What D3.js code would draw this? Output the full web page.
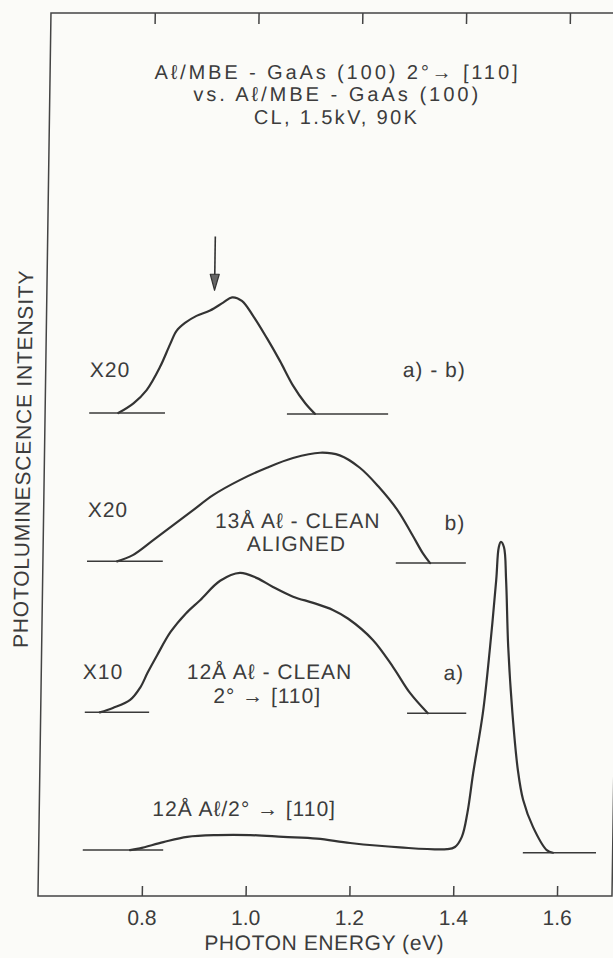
<!DOCTYPE html>
<html><head><meta charset="utf-8">
<script src="https://cdn.jsdelivr.net/npm/d3@7"></script>
<style>
html,body{margin:0;padding:0;background:#fbfbf8;}
svg{display:block;}
text{font-family:"Liberation Sans",Arial,Helvetica,sans-serif;fill:#3c3c3c;}
</style></head><body>
<svg id="chart" width="613" height="958"></svg>
<script>
// ---------- data ----------
const energyTicks = [0.8, 1.0, 1.2, 1.4, 1.6];
const titleLines = ["A\u2113/MBE - GaAs (100) 2\u00b0\u2192 [110]", "vs. A\u2113/MBE - GaAs (100)", "CL, 1.5kV, 90K"];
const xLabel = "PHOTON ENERGY (eV)";
const yLabel = "PHOTOLUMINESCENCE INTENSITY";

// difference spectrum a) - b)  (x20)
const specAB_E = [0.741,0.770,0.795,0.820,0.839,0.851,0.867,0.889,0.915,0.940,0.957,0.976,0.998,1.025,1.051,1.077,1.101,1.120];
const specAB_I = [54.7,55.8,57.3,59.9,62.5,64.0,64.9,65.7,66.3,67.2,67.8,67.4,65.7,63.2,60.6,57.8,55.8,54.6];
// b) 13A Al - clean aligned (x20)
const specB_E = [0.743,0.773,0.812,0.850,0.888,0.926,0.977,1.029,1.079,1.131,1.169,1.208,1.244,1.283,1.312,1.332,1.346];
const specB_I = [37.9,38.6,40.3,42.0,43.7,45.4,47.1,48.5,49.6,50.2,49.9,48.5,46.4,43.6,40.8,38.8,37.7];
// a) 12A Al - clean 2deg -> [110] (x10)
const specA_E = [0.714,0.739,0.772,0.791,0.805,0.823,0.848,0.877,0.904,0.942,0.980,1.013,1.044,1.083,1.122,1.160,1.190,1.238,1.278,1.311,1.346];
const specA_I = [20.8,21.3,22.2,23.6,25.3,27.3,29.9,32.0,33.5,35.7,36.6,36.0,35.0,33.9,33.2,32.4,31.4,29.0,25.9,23.0,20.7];
// 12A Al / 2deg -> [110] (x1)
const specD_E = [0.776,0.795,0.840,0.886,0.944,1.007,1.071,1.136,1.200,1.296,1.387,1.402,1.415,1.425,1.435,1.452,1.464,1.474,1.478,1.482,1.488,1.493,1.499,1.509,1.521,1.532,1.552,1.579,1.591];
const specD_I = [5.2,5.4,6.1,6.7,6.9,6.9,6.7,6.5,6.0,5.5,5.3,5.55,6.7,9.4,13.9,20.7,28.2,35.8,39.5,40.1,39.5,35.8,28.2,20.7,14.3,10.9,7.8,5.2,4.9];

// zero lines [E start, E end, level]
const baseAB = [[0.685,0.831,54.7],[1.066,1.261,54.6]];
const baseB  = [[0.685,0.831,37.9],[1.280,1.415,37.7]];
const baseA  = [[0.685,0.809,20.8],[1.306,1.420,20.7]];
const baseD  = [[0.685,0.840,5.2],[1.533,1.674,4.9]];

// arrow marker [energy, from, to]
const arrowMark = [0.923, 74.7, 68.6];

const gainLabels = ["X20", "X20", "X10"];
const sideLabels = ["a) - b)", "b)", "a)"];
const sampleB = ["13\u00c5 A\u2113 - CLEAN", "ALIGNED"];
const sampleA = ["12\u00c5 A\u2113 - CLEAN", "2\u00b0 \u2192 [110]"];
const sampleD = ["12\u00c5 A\u2113/2\u00b0 \u2192 [110]"];

// ---------- drawing ----------
const svg = d3.select("#chart");
const ink = "#333";
const x = d3.scaleLinear().domain([0.6, 1.706]).range([38, 612]);
const y = d3.scaleLinear().domain([0, 100]).range([896, 13]);

// the scanned figure is slightly sheared
const g = svg.append("g").attr("transform", "translate(0,895) skewX(-0.843) translate(0,-895)");

// frame
g.append("rect").attr("x", x(0.6)).attr("y", y(100))
  .attr("width", x(1.706) - x(0.6)).attr("height", y(0) - y(100))
  .attr("fill", "none").attr("stroke", "#444").attr("stroke-width", 1.5);

const ax = g.append("g").attr("transform", `translate(0,${y(0)})`)
  .call(d3.axisBottom(x).tickValues(energyTicks).tickFormat(d3.format(".1f")).tickSize(-10).tickPadding(14));
const at = g.append("g").attr("transform", `translate(0,${y(100)})`)
  .call(d3.axisTop(x).tickValues(energyTicks).tickFormat("").tickSize(-11));
[ax, at].forEach(a => {
  a.select(".domain").remove();
  a.selectAll("line").attr("stroke", "#444").attr("stroke-width", 1.5);
  a.selectAll("text").attr("font-size", 21).attr("fill", "#3c3c3c")
    .style("font-family", '"Liberation Sans",Arial,sans-serif');
});

// axis titles
g.append("text").attr("x", x(1.153)).attr("y", 950).attr("text-anchor", "middle")
  .attr("font-size", 21).attr("letter-spacing", 0.6).text(xLabel);
g.append("text").attr("transform", "translate(24,648) rotate(-90)")
  .attr("font-size", 21).attr("letter-spacing", 0.8).text(yLabel);

// title
const titleWidths = [363, 285, 163];
g.append("g").selectAll("text").data(titleLines).join("text")
  .attr("x", x(1.151)).attr("y", (d, i) => 79 + i * 22.5)
  .attr("text-anchor", "middle").attr("font-size", 20)
  .attr("textLength", (d, i) => titleWidths[i]).attr("lengthAdjust", "spacing")
  .text(d => d);

// curves
const line = d3.line().x(d => x(d[0])).y(d => y(d[1])).curve(d3.curveCatmullRom.alpha(0.5));
[[specAB_E, specAB_I], [specB_E, specB_I], [specA_E, specA_I], [specD_E, specD_I]].forEach(([e, v]) => {
  g.append("path").datum(d3.zip(e, v)).attr("d", line)
    .attr("fill", "none").attr("stroke", ink).attr("stroke-width", 2.2)
    .attr("stroke-linejoin", "round").attr("stroke-linecap", "round");
});
[baseAB, baseB, baseA, baseD].forEach(bs => {
  g.append("g").selectAll("line").data(bs).join("line")
    .attr("x1", d => x(d[0])).attr("x2", d => x(d[1]))
    .attr("y1", d => y(d[2])).attr("y2", d => y(d[2]))
    .attr("stroke", "#3a3a3a").attr("stroke-width", 1.5);
});

// arrow
const axp = x(arrowMark[0]), ay0 = y(arrowMark[1]), ay1 = y(arrowMark[2]);
g.append("line").attr("x1", axp).attr("x2", axp).attr("y1", ay0).attr("y2", ay1 - 14)
  .attr("stroke", ink).attr("stroke-width", 1.6);
g.append("path").attr("d", `M${axp - 4.5},${ay1 - 16} L${axp + 4.5},${ay1 - 16} L${axp},${ay1} Z`)
  .attr("fill", "#666").attr("stroke", ink).attr("stroke-width", 1.2).attr("stroke-linejoin", "round");

// labels
const lab = (t, e, v, anchor) => g.append("text").attr("x", x(e)).attr("y", y(v))
  .attr("text-anchor", anchor).attr("font-size", 21).attr("letter-spacing", 1).text(t);
lab(gainLabels[0], 0.685, 58.8, "start");
lab(gainLabels[1], 0.685, 42.9, "start");
lab(gainLabels[2], 0.680, 24.6, "start");
lab(sideLabels[0], 1.288, 58.8, "start");
lab(sideLabels[1], 1.373, 41.4, "start");
lab(sideLabels[2], 1.375, 24.5, "start");
lab(sampleB[0], 1.090, 41.7, "middle");
lab(sampleB[1], 1.088, 39.1, "middle");
lab(sampleA[0], 1.040, 24.6, "middle");
lab(sampleA[1], 1.036, 21.9, "middle");
lab(sampleD[0], 0.995, 9.06, "middle");
</script>
</body></html>
